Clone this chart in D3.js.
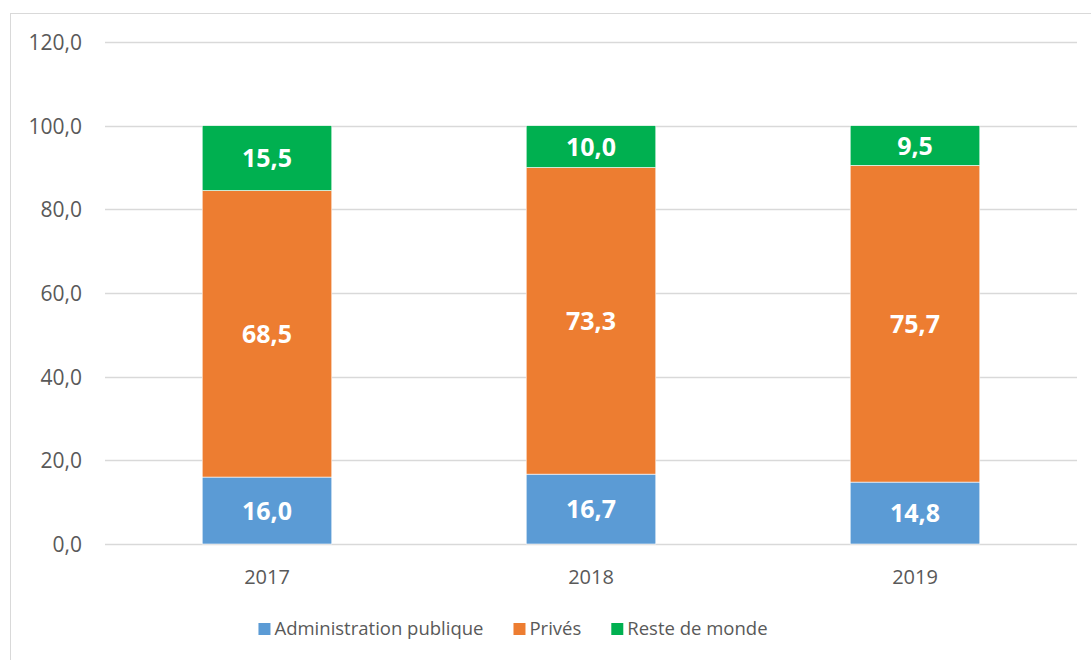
<!DOCTYPE html>
<html><head><meta charset="utf-8">
<script src="https://cdn.jsdelivr.net/npm/d3@7"></script>
<style>body{margin:0;background:#fff}svg{display:block}text{font-family:"Open Sans",sans-serif}</style>
</head><body><svg id="c" width="1091" height="660"></svg>
<script>
const years = ["2017","2018","2019"];
const seriesNames = ["Administration publique","Privés","Reste de monde"];
const adminValues = [16.0,16.7,14.8];
const privesValues = [68.5,73.3,75.7];
const resteValues = [15.5,10.0,9.5];
const yTicks = [0,20,40,60,80,100,120];
const colors = ["#5B9BD5","#ED7D31","#00B050"];

const svg = d3.select("#c");
svg.append("rect").attr("x",10.5).attr("y",13.5).attr("width",1100).attr("height",700)
  .attr("fill","#fff").attr("stroke","#d9d9d9").attr("stroke-width",1);

const pL=105, pR=1077, pT=42, pB=544;
const x = d3.scaleBand().domain(years).range([pL,pR]).paddingInner(0.6).paddingOuter(0.3);
const y = d3.scaleLinear().domain([0,120]).range([pB,pT]);
const fmt = v => d3.format(".1f")(v).replace(".",",");

// gridlines
svg.append("g").selectAll("line").data(yTicks).join("line")
  .attr("x1",pL).attr("x2",pR).attr("y1",d=>Math.round(y(d))+0.5).attr("y2",d=>Math.round(y(d))+0.5)
  .attr("stroke","#d9d9d9").attr("stroke-width",1.3);

// y axis labels
const yAxis = svg.append("g").attr("transform",`translate(82,0)`)
  .call(d3.axisLeft(y).tickValues(yTicks).tickFormat(fmt).tickSize(0).tickPadding(0));
yAxis.select(".domain").remove();
yAxis.selectAll("text").attr("fill","#595959").style("font-size","21px").style("font-family","'Open Sans',sans-serif").attr("dy","0.35em");

// x axis labels
const xAxis = svg.append("g").attr("transform",`translate(0,${pB})`)
  .call(d3.axisBottom(x).tickSize(0).tickPadding(0));
xAxis.select(".domain").remove();
xAxis.selectAll("text").attr("fill","#595959").style("font-size","20px").style("font-family","'Open Sans',sans-serif").attr("y",33).attr("dy","0.35em");

const rows = years.map((yr,i)=>({year:yr, v:[adminValues[i],privesValues[i],resteValues[i]]}));
const stack = d3.stack().keys([0,1,2]).value((d,k)=>d.v[k]);
const stacked = stack(rows);

stacked.forEach((s,k)=>{
  const g = svg.append("g");
  g.selectAll("rect").data(s).join("rect")
    .attr("x",d=>x(d.data.year)).attr("width",x.bandwidth())
    .attr("y",d=>y(d[1])).attr("height",d=>y(d[0])-y(d[1]))
    .attr("fill",colors[k]).attr("stroke","#fff").attr("stroke-width",0.6);
  g.selectAll("text").data(s).join("text")
    .attr("x",d=>x(d.data.year)+x.bandwidth()/2)
    .attr("y",d=>(y(d[0])+y(d[1]))/2).attr("dy","0.36em")
    .attr("text-anchor","middle").attr("fill","#fff")
    .style("font-size","25px").style("font-weight","bold")
    .text(d=>fmt(d[1]-d[0]));
});

// legend
const lg = svg.append("g");
const items = lg.selectAll("g").data(seriesNames).join("g");
items.append("rect").attr("width",12).attr("height",12).attr("y",-6).attr("fill",(d,i)=>colors[i]);
items.append("text").attr("x",16).attr("dy","0.35em").attr("fill","#595959").style("font-size","18.5px").text(d=>d);
let cx=0; const gap=30;
items.each(function(){
  const w = this.getBBox().width;
  d3.select(this).attr("transform",`translate(${cx},0)`);
  cx += w + gap;
});
const total = cx-gap;
lg.attr("transform",`translate(${513-total/2},629)`);
</script></body></html>
